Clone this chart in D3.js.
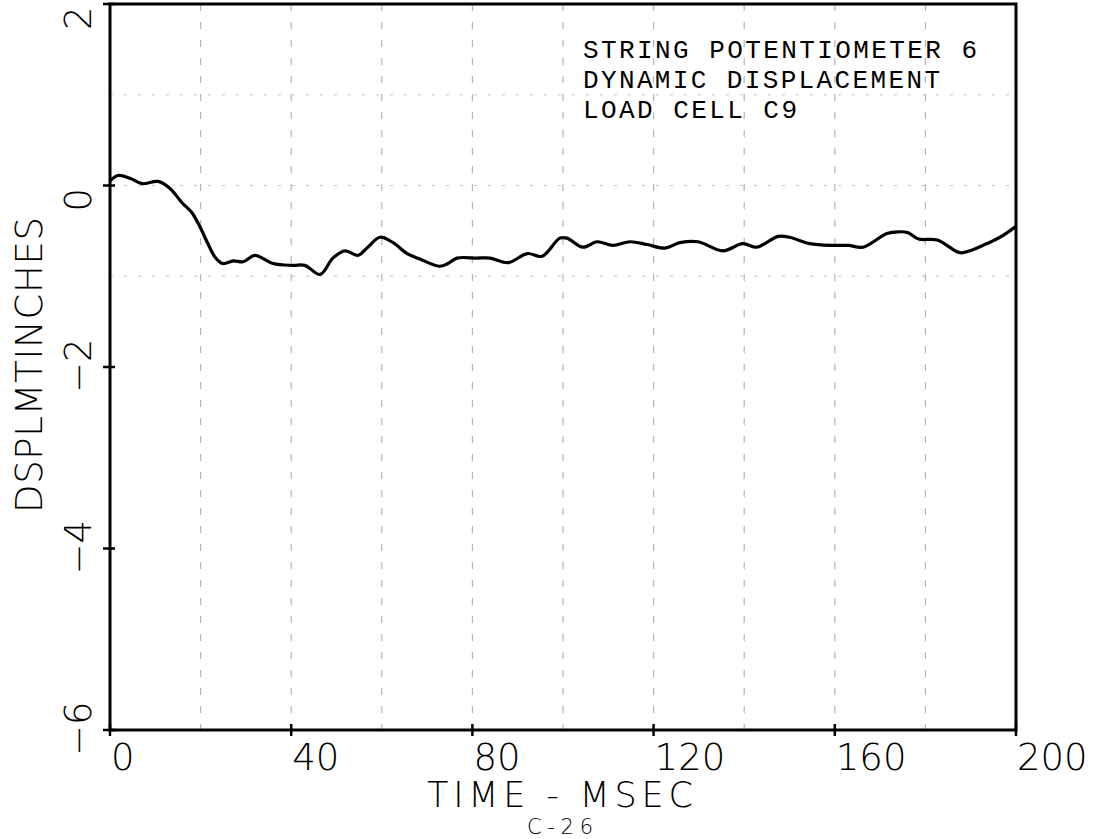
<!DOCTYPE html>
<html>
<head>
<meta charset="utf-8">
<script src="https://cdn.jsdelivr.net/npm/d3@7"></script>
<style>
  html, body { margin: 0; padding: 0; background: #fff; }
  svg { display: block; }
</style>
</head>
<body>
<svg id="chart" width="1096" height="839"></svg>
<script>
// ---- data ----
const timeMs = [0, 1.8, 4.4, 7.1, 10.6, 13.2, 15.9, 18.1, 19.9, 21.6, 23.2, 24.9, 27.2, 29.4, 32.0, 36.0,
  40.4, 43.0, 46.4, 49.2, 51.9, 54.7, 56.7, 59.6, 62.5, 65.6, 68.4, 72.8, 74.6, 76.6, 81.0, 83.9,
  87.9, 92.1, 95.4, 99.3, 100.9, 104.4, 107.5, 111.0, 114.8, 118.5, 122.5, 125.8, 129.8, 135.3,
  139.7, 142.8, 147.5, 150.0, 154.5, 159.6, 163.0, 166.2, 171.5, 174.0, 176.2, 178.5, 182.6,
  187.6, 189.8, 193.6, 196.5, 200.0];
const displacement = [0.05, 0.11, 0.08, 0.02, 0.045, -0.03, -0.19, -0.30, -0.46, -0.64, -0.79, -0.86, -0.83, -0.84, -0.77, -0.86,
  -0.88, -0.88, -0.98, -0.80, -0.72, -0.77, -0.69, -0.57, -0.63, -0.75, -0.81, -0.89, -0.86, -0.80, -0.80, -0.80,
  -0.85, -0.75, -0.78, -0.58, -0.58, -0.68, -0.62, -0.66, -0.62, -0.65, -0.69, -0.63, -0.62, -0.72,
  -0.64, -0.68, -0.56, -0.57, -0.64, -0.66, -0.66, -0.68, -0.53, -0.51, -0.52, -0.59, -0.60,
  -0.74, -0.72, -0.64, -0.57, -0.45];
const xTicks = [0, 40, 80, 120, 160, 200];
const yTicks = [-6, -4, -2, 0, 2];
const gridX = [20, 40, 60, 80, 100, 120, 140, 160, 180];
const gridY = [1, 0, -1];
const annotation = ["STRING POTENTIOMETER 6", "DYNAMIC DISPLACEMENT", "LOAD CELL C9"];
const annotationWidths = [394, 357, 214];
const xTitle = "TIME - MSEC";
const yTitle = "DSPLMTINCHES";
const pageLabel = "C-26";

// ---- layout ----
const svg = d3.select("#chart");
const x = d3.scaleLinear().domain([0, 200]).range([110, 1016]);
const y = d3.scaleLinear().domain([-6, 2]).range([730, 4]);
const fmt = d3.format("d");
const tickFont = "'DejaVu Sans', sans-serif";

// faint ghost grid (show-through in the scan)
svg.append("g").selectAll("line").data(gridX).join("line")
  .attr("x1", d => x(d)).attr("x2", d => x(d))
  .attr("y1", y(2)).attr("y2", y(-6))
  .attr("stroke", "#b5b5b5").attr("stroke-width", 1.2).attr("stroke-dasharray", "7,11");
svg.append("g").selectAll("line").data(gridY).join("line")
  .attr("x1", x(0)).attr("x2", x(200))
  .attr("y1", d => y(d)).attr("y2", d => y(d))
  .attr("stroke", "#c4c4c4").attr("stroke-width", 1).attr("stroke-dasharray", "3,11");

// frame
svg.append("rect")
  .attr("x", x(0)).attr("y", y(2))
  .attr("width", x(200) - x(0)).attr("height", y(-6) - y(2))
  .attr("fill", "none").attr("stroke", "#000").attr("stroke-width", 3);

// x axis ticks & labels
const xAxis = svg.append("g");
xAxis.selectAll("line").data(xTicks).join("line")
  .attr("x1", d => x(d)).attr("x2", d => x(d))
  .attr("y1", y(-6) - 6).attr("y2", y(-6) + 6)
  .attr("stroke", "#000").attr("stroke-width", 2.5);
xAxis.selectAll("text").data(xTicks).join("text")
  .attr("x", d => x(d) + 1).attr("y", 770)
  .attr("font-family", tickFont).attr("font-size", 37).attr("font-weight", 200)
  .attr("fill", "#000")
  .text(d => fmt(d));

// y axis ticks & labels
const yAxis = svg.append("g");
yAxis.selectAll("line").data(yTicks).join("line")
  .attr("x1", x(0) - 7).attr("x2", x(0) + 5)
  .attr("y1", d => y(d)).attr("y2", d => y(d))
  .attr("stroke", "#000").attr("stroke-width", 2.5);
yAxis.selectAll("text").data(yTicks).join("text")
  .attr("transform", d => `translate(91,${y(d) + 26}) rotate(-90)`)
  .attr("font-family", tickFont).attr("font-size", 37).attr("font-weight", 200)
  .attr("fill", "#000")
  .text(d => fmt(d));

// axis titles
svg.append("text")
  .attr("x", 427).attr("y", 807)
  .attr("textLength", 266).attr("lengthAdjust", "spacing")
  .attr("font-family", tickFont).attr("font-size", 35).attr("font-weight", 200)
  .attr("fill", "#000")
  .text(xTitle);
svg.append("text")
  .attr("transform", "translate(42,513) rotate(-90)")
  .attr("textLength", 296).attr("lengthAdjust", "spacing")
  .attr("font-family", tickFont).attr("font-size", 37).attr("font-weight", 200)
  .attr("fill", "#000")
  .text(yTitle);
svg.append("text")
  .attr("x", 527).attr("y", 834)
  .attr("textLength", 66).attr("lengthAdjust", "spacing")
  .attr("font-family", tickFont).attr("font-size", 21).attr("font-weight", 200)
  .attr("fill", "#000")
  .text(pageLabel);

// annotation
svg.append("g").selectAll("text").data(annotation).join("text")
  .attr("x", 583).attr("y", (d, i) => 58 + i * 30)
  .attr("textLength", (d, i) => annotationWidths[i]).attr("lengthAdjust", "spacing")
  .attr("font-family", "'Liberation Mono', 'Courier New', monospace")
  .attr("font-size", 26)
  .attr("fill", "#000")
  .text(d => d);

// data line
const pts = timeMs.map((t, i) => [t, displacement[i]]);
const line = d3.line()
  .x(d => x(d[0])).y(d => y(d[1]))
  .curve(d3.curveCatmullRom.alpha(0.5));
svg.append("path")
  .datum(pts)
  .attr("d", line)
  .attr("fill", "none").attr("stroke", "#000").attr("stroke-width", 3.2)
  .attr("stroke-linejoin", "round");
</script>
</body>
</html>
